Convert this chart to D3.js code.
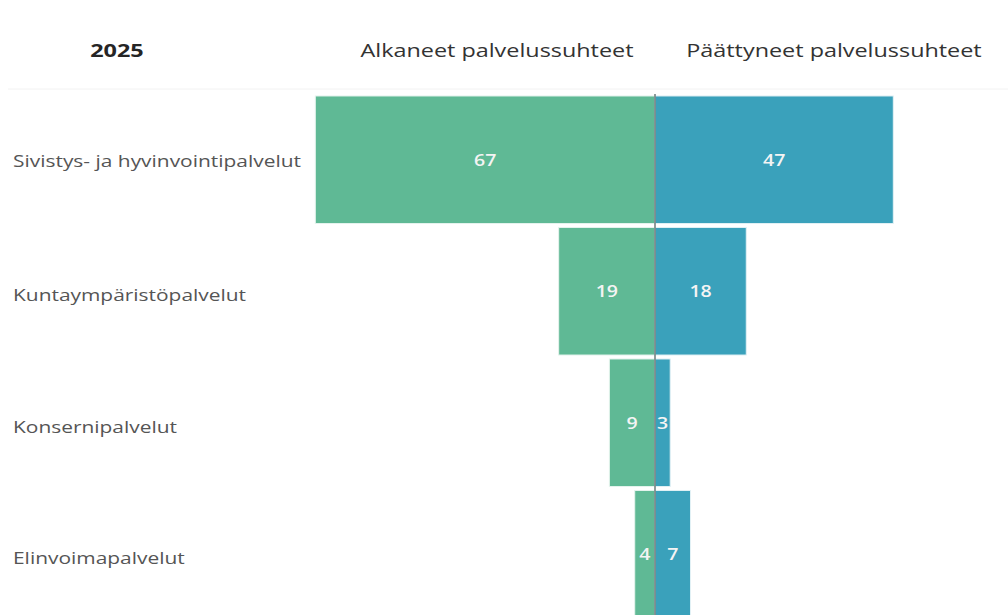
<!DOCTYPE html>
<head>
  <meta charset="utf-8">
  <title>Palvelussuhteet 2025</title>
  <style>
    body { margin: 0; background: #fff; }
    text { font-family: "Open Sans", "Noto Sans", sans-serif; }
  </style>
</head>
<body>
  <script src="https://cdn.jsdelivr.net/npm/d3@7/dist/d3.min.js"></script>
  <script>
    // data
    var categories = ["Sivistys- ja hyvinvointipalvelut", "Kuntaympäristöpalvelut", "Konsernipalvelut", "Elinvoimapalvelut"];
    var alkaneet = [67, 19, 9, 4];
    var paattyneet = [47, 18, 3, 7];
    var yearLabel = "2025";
    var headers = ["Alkaneet palvelussuhteet", "Päättyneet palvelussuhteet"];

    var w = 1008, h = 615, center = 655, unit = 5.07, stretch = 1.23;

    var svg = d3.select("body").append("svg").attr("width", w).attr("height", h);

    // the reference is a bit wider than tall, so text gets stretched horizontally
    function widen(sel, f) {
      sel.each(function() {
        var len = this.getComputedTextLength();
        d3.select(this).attr("textLength", len * (f || stretch)).attr("lengthAdjust", "spacingAndGlyphs");
      });
    }

    // scales
    var xLeft = d3.scaleLinear().domain([0, 100]).range([center, center - 100 * unit]);
    var xRight = d3.scaleLinear().domain([0, 100]).range([center, center + 100 * unit]);
    var y = d3.scaleBand().domain(categories).range([94, 94 + 131.5 * 4]).paddingInner(0.03).paddingOuter(0.015);

    // faint header separator
    svg.append("line").attr("x1", 8).attr("x2", w).attr("y1", 89).attr("y2", 89)
      .attr("stroke", "#f2f2f2").attr("stroke-width", 1);

    // header texts
    svg.append("text").attr("x", 117).attr("y", 57).attr("text-anchor", "middle")
      .attr("font-size", 18).attr("font-weight", "bold").attr("fill", "#252525").text(yearLabel)
      .call(widen, 1.3);
    svg.append("text").attr("x", 497).attr("y", 57).attr("text-anchor", "middle")
      .attr("font-size", 19).attr("fill", "#333").text(headers[0]).call(widen);
    svg.append("text").attr("x", 834).attr("y", 57).attr("text-anchor", "middle")
      .attr("font-size", 19).attr("fill", "#333").text(headers[1]).call(widen);

    // category labels
    svg.selectAll("text.cat").data(categories).enter().append("text")
      .attr("class", "cat")
      .attr("x", 13)
      .attr("y", function(d, i) { return y(d) + y.bandwidth() / 2 + (i ? 4 : 1); })
      .attr("dy", "0.35em")
      .attr("font-size", 17)
      .attr("fill", "#555")
      .text(function(d) { return d; })
      .call(widen);

    // left bars
    svg.selectAll("rect.alk").data(alkaneet).enter().append("rect")
      .attr("class", "alk")
      .attr("x", function(d) { return xLeft(d); })
      .attr("y", function(d, i) { return y(categories[i]); })
      .attr("width", function(d) { return xLeft(0) - xLeft(d); })
      .attr("height", y.bandwidth())
      .attr("fill", "#5fb995")
      .attr("stroke", "#e6f4ee").attr("stroke-width", 1);

    // right bars
    svg.selectAll("rect.paa").data(paattyneet).enter().append("rect")
      .attr("class", "paa")
      .attr("x", xRight(0))
      .attr("y", function(d, i) { return y(categories[i]); })
      .attr("width", function(d) { return xRight(d) - xRight(0); })
      .attr("height", y.bandwidth())
      .attr("fill", "#3aa1bb")
      .attr("stroke", "#e3f1f5").attr("stroke-width", 1);

    // value labels
    svg.selectAll("text.alkv").data(alkaneet).enter().append("text")
      .attr("x", function(d) { return (xLeft(d) + xLeft(0)) / 2; })
      .attr("y", function(d, i) { return y(categories[i]) + y.bandwidth() / 2; })
      .attr("dy", "0.35em").attr("text-anchor", "middle")
      .attr("font-size", 17).attr("font-weight", 600).attr("fill", "#f4f4f4")
      .text(function(d) { return d; })
      .call(widen, 1.15);
    svg.selectAll("text.paav").data(paattyneet).enter().append("text")
      .attr("x", function(d) { return (xRight(d) + xRight(0)) / 2; })
      .attr("y", function(d, i) { return y(categories[i]) + y.bandwidth() / 2; })
      .attr("dy", "0.35em").attr("text-anchor", "middle")
      .attr("font-size", 17).attr("font-weight", 600).attr("fill", "#f4f4f4")
      .text(function(d) { return d; })
      .call(widen, 1.15);

    // center line
    svg.append("line").attr("x1", center).attr("x2", center).attr("y1", 94).attr("y2", h)
      .attr("stroke", "#6b7b7b").attr("stroke-width", 1.5);
  </script>
</body>
